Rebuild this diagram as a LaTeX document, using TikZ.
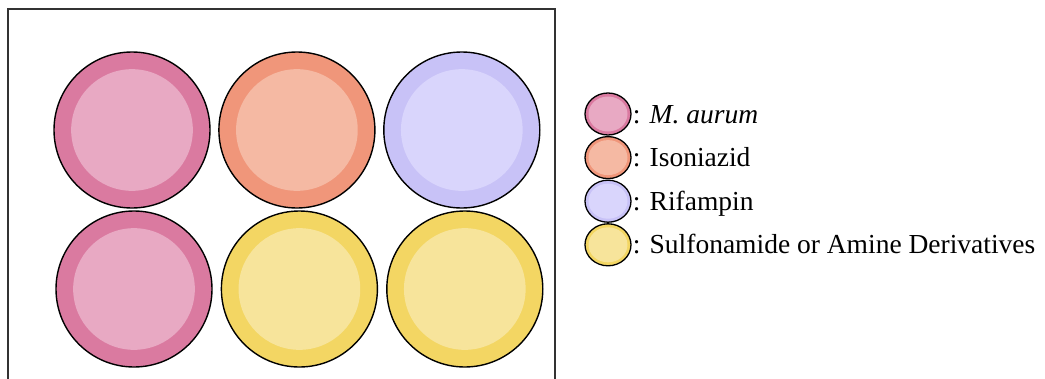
\documentclass[tikz,border=0pt]{standalone}
\usepackage{fontspec}
\setmainfont{Liberation Serif}
\usetikzlibrary{shapes.geometric, positioning}

\definecolor{pinkout}{HTML}{DA7AA0}
\definecolor{pinkin}{HTML}{E8A9C3}
\definecolor{orangeout}{HTML}{F0967A}
\definecolor{orangein}{HTML}{F5B9A3}
\definecolor{purpleout}{HTML}{C8C2F7}
\definecolor{purplein}{HTML}{D9D5FC}
\definecolor{yellowout}{HTML}{F3D663}
\definecolor{yellowin}{HTML}{F7E49B}

\begin{document}
\begin{tikzpicture}[
    x=1pt, y=-1pt,
    well/.style 2 args={circle, draw=black, line width=1.4pt, fill=#1out, inner sep=0pt, minimum size=#2,
        path picture={\fill[#1in] (path picture bounding box.center) circle [radius=0.39*#2];}},
    key/.style={well={#1}{44pt}, ellipse, minimum width=46pt, minimum height=42pt, line width=1.3pt,
        path picture={\fill[#1in] (path picture bounding box.center) ellipse [x radius=19.5pt, y radius=17.5pt];}},
    keytext/.style={anchor=west, inner sep=1pt, text height=18pt, text depth=0pt, font=\fontsize{27.5}{32}\selectfont}
]
\useasboundingbox (0,0) rectangle (1045,378);
\fill[white] (0,0) rectangle (1045,378);

% plate
\draw[line width=2pt, black!80] (8,380) -- (8,9) -- (555,9) -- (555,380);

\node[well={pink}{156pt}] (w1) at (132,130) {};
\node[well={orange}{156pt}, right=7.5pt of w1] (w2) {};
\node[well={purple}{156pt}, right=7.5pt of w2] (w3) {};
\node[well={pink}{156pt}] (w4) at (134,289) {};
\node[well={yellow}{156pt}, right=8pt of w4] (w5) {};
\node[well={yellow}{156pt}, right=8pt of w5] (w6) {};

% legend
\node[key=pink] (k1) at (608,114) {};
\node[key=orange, below=0.3pt of k1] (k2) {};
\node[key=purple, below=0.3pt of k2] (k3) {};
\node[key=yellow, below=0.3pt of k3] (k4) {};

\node[keytext] (t1) at (k1.east) {: \textit{M. aurum}};
\node[keytext] (t2) at (k2.east) {: Isoniazid};
\node[keytext] (t3) at (k3.east) {: Rifampin};
\node[keytext] (t4) at (k4.east) {: Sulfonamide or Amine Derivatives};

\end{tikzpicture}
\end{document}
